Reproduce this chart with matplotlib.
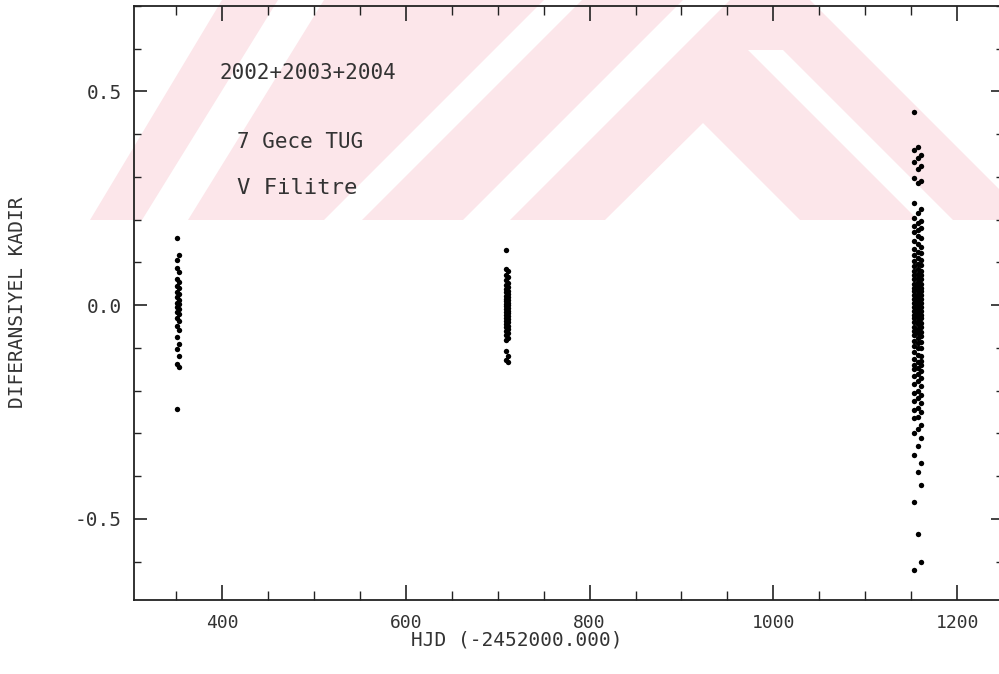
import matplotlib
matplotlib.use("Agg")
import matplotlib.pyplot as plt
from matplotlib.patches import Polygon
from matplotlib.ticker import MultipleLocator, FormatStrFormatter

# HJD - 2452000 for each night and the differential magnitudes of that night
night_hjd = [350.5, 353.4, 708.6, 711.5, 1153.5, 1157.4, 1160.5]

night1 = [0.157, 0.106, 0.088, 0.061, 0.045, 0.030, 0.018, 0.006, -0.004, -0.015,
          -0.030, -0.048, -0.075, -0.102, -0.138, -0.242]
night2 = [0.118, 0.077, 0.055, 0.040, 0.025, 0.012, 0.002, -0.008, -0.020, -0.038,
          -0.058, -0.090, -0.120, -0.145]
night3 = [0.129, 0.085, 0.070, 0.058, 0.047, 0.038, 0.030, 0.022, 0.015, 0.009,
          0.003, -0.003, -0.010, -0.016, -0.022, -0.029, -0.036, -0.044, -0.052,
          -0.060, -0.070, -0.082, -0.108, -0.128]
night4 = [0.080, 0.066, 0.052, 0.043, 0.034, 0.026, 0.018, 0.012, 0.006, 0.000,
          -0.006, -0.013, -0.019, -0.026, -0.033, -0.040, -0.048, -0.056, -0.066,
          -0.078, -0.118, -0.134]
night5 = [0.453, 0.362, 0.335, 0.298, 0.239, 0.205, 0.185, 0.170, 0.150, 0.132,
          0.118, 0.104, 0.092, 0.080, 0.070, 0.060, 0.050, 0.041, 0.032, 0.023,
          0.014, 0.005, -0.004, -0.013, -0.022, -0.031, -0.040, -0.050, -0.060,
          -0.071, -0.083, -0.096, -0.110, -0.126, -0.140, -0.150, -0.165, -0.185,
          -0.205, -0.225, -0.245, -0.265, -0.300, -0.350, -0.460, -0.620]
night6 = [0.370, 0.345, 0.318, 0.285, 0.215, 0.192, 0.176, 0.162, 0.142, 0.125,
          0.110, 0.097, 0.085, 0.074, 0.064, 0.054, 0.045, 0.036, 0.027, 0.018,
          0.009, 0.000, -0.009, -0.018, -0.027, -0.036, -0.045, -0.055, -0.065,
          -0.076, -0.088, -0.101, -0.116, -0.134, -0.147, -0.160, -0.178, -0.200,
          -0.218, -0.240, -0.262, -0.290, -0.330, -0.390, -0.535]
night7 = [0.352, 0.326, 0.290, 0.225, 0.198, 0.180, 0.156, 0.137, 0.121, 0.106,
          0.093, 0.081, 0.070, 0.060, 0.050, 0.041, 0.032, 0.023, 0.014, 0.005,
          -0.004, -0.013, -0.022, -0.031, -0.041, -0.051, -0.062, -0.073, -0.086,
          -0.100, -0.118, -0.130, -0.140, -0.155, -0.170, -0.190, -0.210, -0.230,
          -0.250, -0.280, -0.310, -0.370, -0.420, -0.600]

nights = [night1, night2, night3, night4, night5, night6, night7]

notes = ["2002+2003+2004", "7 Gece TUG", "V Filitre"]

plt.rcParams['axes.unicode_minus'] = False
plt.rcParams['font.family'] = ['DejaVu Sans Mono']

W, H = 999, 674
fig = plt.figure(figsize=(W / 100, H / 100), dpi=100)
fig.patch.set_facecolor('white')


def px(points):
    # pixel coords (y from the top) -> figure fraction
    return [(x / W, 1 - y / H) for x, y in points]


# pale thesis watermark behind the plot
pink = '#fce6ea'
fig.add_artist(Polygon(px([(90, 220), (222, 0), (810, 0), (1030, 220)]),
                       closed=True, transform=fig.transFigure,
                       facecolor=pink, edgecolor='none', zorder=0))
white_parts = [
    [(142, 220), (188, 220), (324, 0), (278, 0)],
    [(324, 220), (362, 220), (582, 0), (544, 0)],
    [(463, 220), (510, 220), (730, 0), (683, 0)],
    [(605, 220), (703, 123), (800, 220)],
    [(748, 50), (783, 50), (953, 220), (918, 220)],
]
for poly in white_parts:
    fig.add_artist(Polygon(px(poly), closed=True, transform=fig.transFigure,
                           facecolor='white', edgecolor='none', zorder=0.5))

ax = fig.add_axes([134 / W, 74 / H, 869 / W, 594 / H])
ax.patch.set_visible(False)
ax.set_zorder(2)

for hjd, mags in zip(night_hjd, nights):
    ax.scatter([hjd] * len(mags), mags, s=15, color='black', marker='o',
               linewidths=0, zorder=3)

ax.set_xlim(304, 1250)
ax.set_ylim(-0.69, 0.70)

ax.xaxis.set_major_locator(MultipleLocator(200))
ax.xaxis.set_minor_locator(MultipleLocator(50))
ax.yaxis.set_major_locator(MultipleLocator(0.5))
ax.yaxis.set_minor_locator(MultipleLocator(0.1))
ax.yaxis.set_major_formatter(FormatStrFormatter('%.1f'))

ax.tick_params(which='both', direction='in', top=True, right=True,
               colors='#222222', labelcolor='#333333')
ax.tick_params(axis='x', which='major', length=11, width=1.2, pad=10, labelsize=13)
ax.tick_params(axis='x', which='minor', length=6.5, width=1.0)
ax.tick_params(axis='y', which='major', length=9, width=1.2, pad=9, labelsize=14)
ax.tick_params(axis='y', which='minor', length=5, width=1.0)
for sp in ax.spines.values():
    sp.set_color('#222222')
    sp.set_linewidth(1.3)

fig.text(517 / W, 1 - 640 / H, "HJD (-2452000.000)", ha='center', va='center',
         fontsize=14, color='#333333')
fig.text(18 / W, 1 - 302 / H, "DIFERANSIYEL KADIR", rotation=90,
         ha='center', va='center', fontsize=14, color='#333333')

ax.text(397, 0.543, notes[0], ha='left', va='center', fontsize=15,
        color='#333333')
ax.text(416, 0.382, notes[1], ha='left', va='center', fontsize=15,
        color='#333333')
ax.text(416, 0.274, notes[2], ha='left', va='center', fontsize=16,
        color='#333333')

fig.savefig("out.png", dpi=100, facecolor='white')
